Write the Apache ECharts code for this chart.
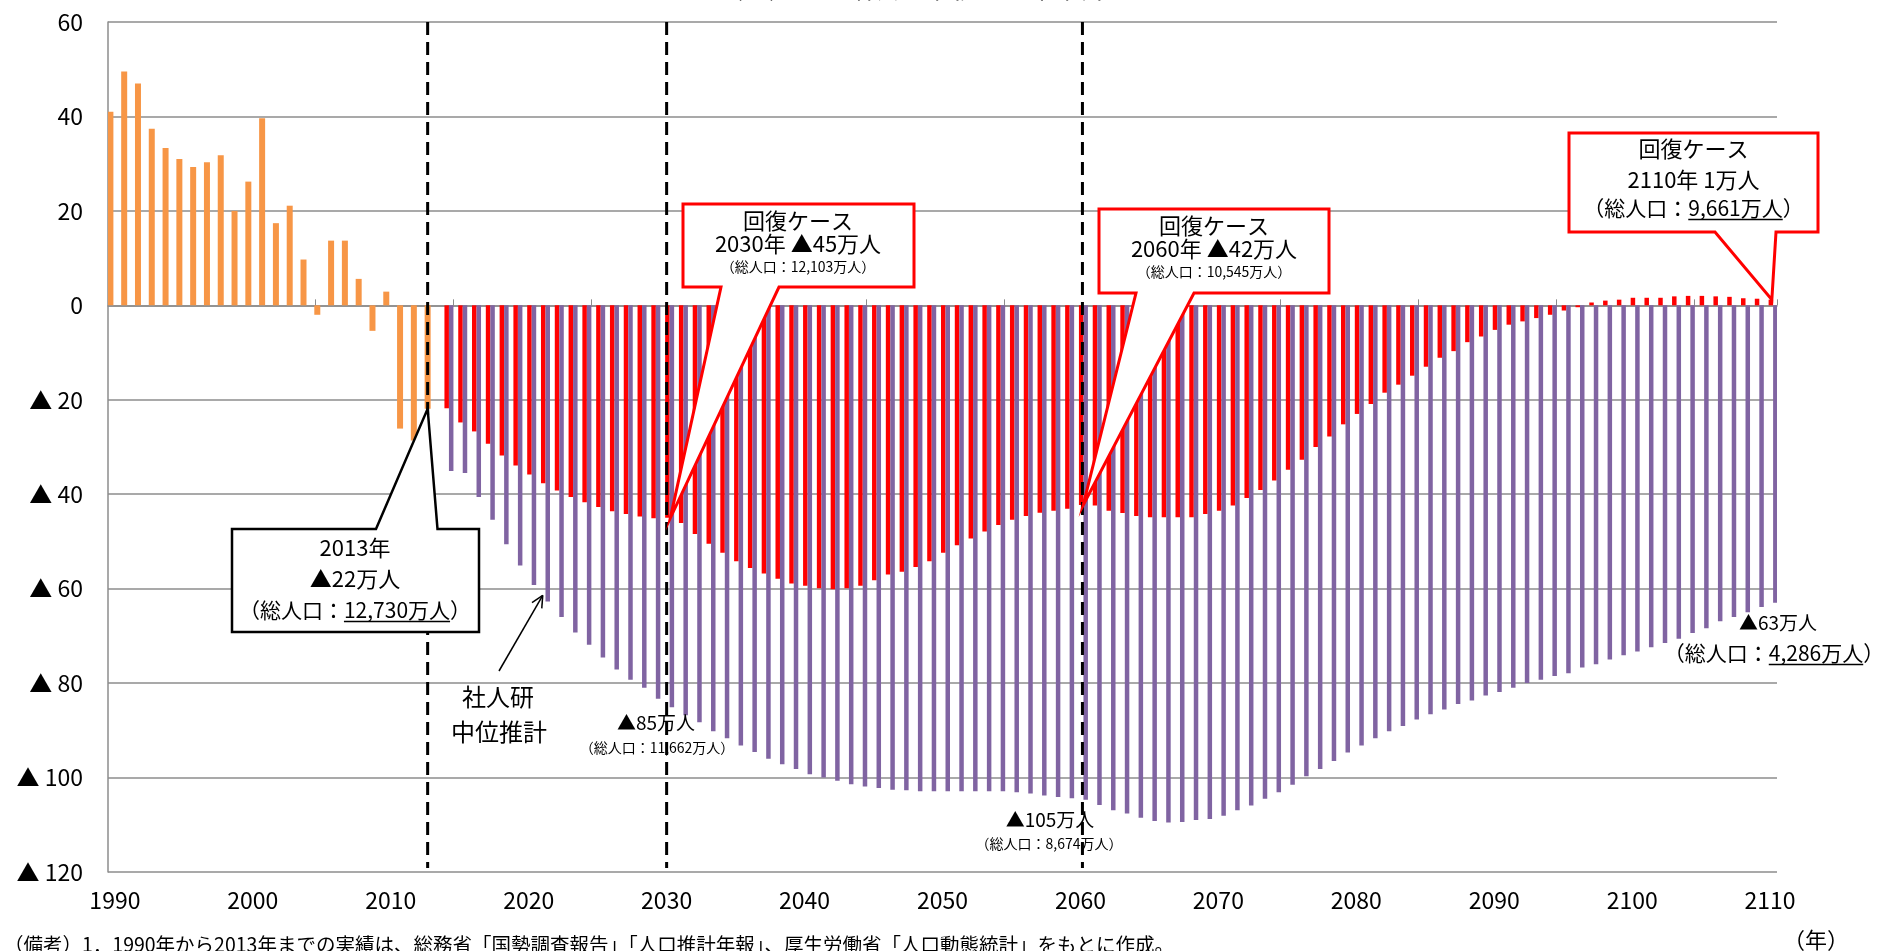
<!DOCTYPE html>
<html>
<head>
<meta charset="utf-8">
<script src="https://cdn.jsdelivr.net/npm/echarts/dist/echarts.min.js"></script>
<style>
  html, body { margin: 0; padding: 0; background: #ffffff; }
  #chart { width: 1881px; height: 951px; }
</style>
</head>
<body>
<div id="chart"></div>
<script>
// ---------------- DATA ----------------
const firstYear = 1990;
const lastYear = 2110;
const labelEvery = 10;

// 実績 1990-2013 (万人)
const actualStart = 1990;
const actual = [41.0, 49.5, 47.0, 37.4, 33.3, 31.0, 29.3, 30.3, 31.8, 20.0,
                26.2, 39.6, 17.4, 21.1, 9.7, -2.0, 13.7, 13.7, 5.6, -5.4,
                2.9, -26.1, -28.6, -21.9];

// 回復ケース 2014-2110
const projStart = 2014;
const recovery = [
  -21.8, -24.8, -26.7, -29.3, -31.8, -33.9, -35.8, -37.7, -39.2, -40.6,
  -41.7, -42.7, -43.6, -44.2, -44.7, -45.1, -45.0,
  -46.1, -48.4, -50.5, -52.4, -54.2, -55.6, -56.8, -57.9, -58.9, -59.4,
  -59.9, -60.1, -59.9, -59.4, -58.2, -57.0, -56.4, -55.4, -54.2, -52.4,
  -50.8, -49.4, -47.9, -46.5, -45.4, -44.6, -43.9, -43.5, -43.1, -42.3,
  -42.4, -43.5, -44.0, -44.6, -44.9, -44.9, -44.9, -44.9, -44.2, -43.5,
  -42.4, -40.8, -39.1, -37.1, -34.8, -32.7, -30.0, -27.8, -25.2, -23.0,
  -20.9, -18.5, -16.8, -14.9, -13.0, -11.1, -9.7, -7.8, -6.6, -5.2,
  -4.1, -3.4, -2.7, -2.0, -1.1, -0.4, 0.6, 1.0, 1.2, 1.6,
  1.6, 1.6, 1.9, 2.0, 2.0, 1.9, 1.8, 1.5, 1.4, 1.2
];

// 社人研中位推計 2014-2110
const ipss = [
  -35.1, -35.5, -40.6, -45.4, -50.6, -55.1, -59.2, -62.7, -66.0, -69.3,
  -71.9, -74.6,
  -77.1, -79.3, -81.0, -83.3, -85.1, -86.8, -88.3, -90.2, -91.7, -93.2,
  -94.6, -96.0, -97.2, -98.2, -99.3, -100.0, -100.7, -101.4, -101.9, -102.2,
  -102.6, -102.7, -102.9, -102.9, -102.9, -102.9, -102.9, -102.9, -102.9, -103.1,
  -103.4, -103.8, -104.1, -104.4, -104.7, -105.8, -106.9, -107.6, -108.5, -109.2,
  -109.5, -109.4, -109.0, -108.8, -108.1, -106.9, -105.9, -104.5, -103.1, -101.5,
  -99.7, -98.2, -96.5, -94.7, -93.2, -91.7, -90.2, -89.1, -87.7, -86.6,
  -85.6, -84.4, -83.7, -82.6, -81.9, -81.0, -80.0, -79.3, -78.5, -77.9,
  -76.7, -76.0, -75.0, -74.1, -73.3, -72.4, -71.5, -70.6, -69.4, -68.4,
  -66.9, -66.0, -65.0, -63.9, -63.0
];

const yMin = -120, yMax = 60, yStep = 20;
const markYears = [2013, 2030, 2060];

// ---------------- BUILD ----------------
const FONT = '"Noto Sans CJK JP", "Noto Sans", sans-serif';
const categories = [];
for (let y = firstYear; y <= lastYear; y++) categories.push(String(y));
const actualData = categories.map(c => { const i = +c - actualStart; return (i >= 0 && i < actual.length) ? actual[i] : '-'; });
const recoveryData = categories.map(c => { const i = +c - projStart; return (i >= 0 && i < recovery.length) ? recovery[i] : '-'; });
const ipssData = categories.map(c => { const i = +c - projStart; return (i >= 0 && i < ipss.length) ? ipss[i] : '-'; });

const GRID = '#8c8c8c';
const chart = echarts.init(document.getElementById('chart'), null, { renderer: 'canvas' });

const W_ACT = 6, W_REC = 4.5, W_IPSS = 4.5;
const option = {
  animation: false,
  backgroundColor: '#ffffff',
  textStyle: { fontFamily: FONT },
  grid: { left: 108, right: 104, top: 22, bottom: 79, containLabel: false },
  xAxis: [
    {
      type: 'category', data: categories, boundaryGap: true,
      axisLine: { show: true, onZero: true, lineStyle: { color: GRID, width: 1.5 } },
      axisTick: { show: true, inside: true, length: 6, lineStyle: { color: GRID, width: 1 },
                  interval: (i) => i % labelEvery === 5 },
      axisLabel: { show: false },
      splitLine: { show: false }
    },
    {
      type: 'category', data: categories, boundaryGap: true, position: 'bottom',
      axisLine: { show: false, onZero: false },
      axisTick: { show: false },
      axisLabel: { show: true, interval: labelEvery - 1, color: '#000', fontSize: 23, fontFamily: FONT, margin: 17 },
      splitLine: { show: false }
    }
  ],
  yAxis: {
    type: 'value', min: yMin, max: yMax, interval: yStep,
    axisLine: { show: true, lineStyle: { color: GRID, width: 1.5 } },
    axisTick: { show: false },
    splitLine: { show: true, lineStyle: { color: GRID, width: 1.5 } },
    axisLabel: {
      color: '#000', fontSize: 23, fontFamily: FONT, margin: 25,
      formatter: v => v < 0 ? '▲ ' + (-v) : String(v)
    }
  },
  series: [
    { name: '実績', type: 'bar', xAxisIndex: 0, data: actualData, barWidth: W_ACT, barGap: '0%',
      itemStyle: { color: '#F79646' } },
    { name: '回復ケース', type: 'bar', xAxisIndex: 0, data: recoveryData, barWidth: W_REC, barGap: '0%',
      itemStyle: { color: '#FF0000' } },
    { name: '社人研中位推計', type: 'bar', xAxisIndex: 0, data: ipssData, barWidth: W_IPSS, barGap: '0%',
      itemStyle: { color: '#8064A2' } }
  ]
};
chart.setOption(option);

// ---------------- ANNOTATIONS ----------------
const totalW = W_ACT + W_REC + W_IPSS;
const OFF_ACTUAL = -totalW / 2 + W_ACT / 2;
const OFF_REC = -totalW / 2 + W_ACT + W_REC / 2;
const OFF_IPSS = totalW / 2 - W_IPSS / 2;
function px(year, value) {
  return chart.convertToPixel({ xAxisIndex: 0, yAxisIndex: 0 }, [year - firstYear, value]);
}
function recVal(y) { return recovery[y - projStart]; }
function ipssVal(y) { return ipss[y - projStart]; }
function actVal(y) { return actual[y - actualStart]; }

const mctx = document.createElement('canvas').getContext('2d');
function measure(str, size) { mctx.font = size + 'px ' + FONT; return mctx.measureText(str).width; }

const G = [];
function text(x, y, str, size, opts) {
  opts = opts || {};
  G.push({ type: 'text', x: x, y: y, z: 120,
    style: { text: str, fill: '#000', fontSize: size, fontFamily: FONT,
             align: opts.align || 'center', verticalAlign: 'middle' } });
  if (opts.underline) {
    const w = measure(str, size);
    let left = (opts.align === 'left') ? x : (opts.align === 'right' ? x - w : x - w / 2);
    const idx = str.indexOf(opts.underline);
    const ux = left + measure(str.slice(0, idx), size);
    const uw = measure(opts.underline, size);
    const uy = y + size * 0.55;
    G.push({ type: 'line', z: 120, shape: { x1: ux, y1: uy, x2: ux + uw, y2: uy },
             style: { stroke: '#000', lineWidth: 1.5 } });
  }
}
function callout(box, base, tip, color, lw, side) {
  const [l, t, r, b] = box;
  let pts;
  if (side === 'top') {
    pts = [[l, t], [base[0], t], tip, [base[1], t], [r, t], [r, b], [l, b]];
  } else {
    pts = [[l, t], [r, t], [r, b], [base[1], b], tip, [base[0], b], [l, b]];
  }
  G.push({ type: 'polygon', z: 110, shape: { points: pts },
           style: { fill: '#ffffff', stroke: color, lineWidth: lw, lineJoin: 'miter' } });
}

// dashed vertical lines
const dashOff = { 2013: OFF_ACTUAL, 2030: 0, 2060: 2 };
const topY = px(firstYear, yMax)[1], botY = px(firstYear, yMin)[1];
markYears.forEach(y => {
  const x = px(y, 0)[0] + dashOff[y];
  G.push({ type: 'line', z: 100, shape: { x1: x, y1: topY, x2: x, y2: botY - 4 },
           style: { stroke: '#000', lineWidth: 3, lineDash: [13, 7] } });
});

// callout 2013 (black)
{
  const p = px(2013, actVal(2013)); const tip = [p[0] + OFF_ACTUAL, p[1]];
  callout([232, 529, 479, 632], [376, 437.5], tip, '#000', 2.5, 'top');
  text(355, 548, '2013年', 22);
  text(355, 579, '▲22万人', 22);
  text(355, 610, '（総人口：12,730万人）', 21, { underline: '12,730万人' });
}
// callout 2030 (red)
{
  const p = px(2030, recVal(2030)); const tip = [p[0] + OFF_REC + 3, p[1]];
  callout([683, 204, 914, 287], [721, 779], tip, '#FF0000', 3, 'bottom');
  text(798, 221, '回復ケース', 22);
  text(798, 244, '2030年 ▲45万人', 22);
  text(798, 267, '（総人口：12,103万人）', 14);
}
// callout 2060 (red)
{
  const p = px(2060, recVal(2060)); const tip = [p[0] + OFF_REC + 2, p[1]];
  callout([1099, 209, 1329, 293], [1136, 1194], tip, '#FF0000', 3, 'bottom');
  text(1214, 226, '回復ケース', 22);
  text(1214, 249, '2060年 ▲42万人', 22);
  text(1214, 272, '（総人口：10,545万人）', 14);
}
// callout 2110 (red)
{
  const p = px(2110, recVal(2110)); const tip = [p[0] + OFF_REC + 1, p[1]];
  callout([1569, 133, 1818, 232], [1715, 1776], tip, '#FF0000', 3, 'bottom');
  text(1693.5, 149, '回復ケース', 22);
  text(1693.5, 180, '2110年 1万人', 22);
  text(1693.5, 208, '（総人口：9,661万人）', 21, { underline: '9,661万人' });
}

// labels under IPSS bars
text(656, 723, '▲85万人', 19);
text(657, 748, '（総人口：11,662万人）', 14);
text(1050, 820, '▲105万人', 19);
text(1049, 844, '（総人口：8,674万人）', 14);
text(1778, 623, '▲63万人', 19);
text(1774, 653, '（総人口：4,286万人）', 21, { underline: '4,286万人' });

// 社人研 中位推計 with arrow
text(498, 697, '社人研', 24);
text(499, 732, '中位推計', 24);
{
  const p = px(2021, ipssVal(2021));
  const tip = [p[0] + OFF_IPSS - 5, p[1] - 6];
  const start = [499, 671];
  G.push({ type: 'line', z: 120, shape: { x1: start[0], y1: start[1], x2: tip[0], y2: tip[1] },
           style: { stroke: '#000', lineWidth: 1.5 } });
  const ang = Math.atan2(start[1] - tip[1], start[0] - tip[0]);
  [0.45, -0.45].forEach(d => {
    G.push({ type: 'line', z: 120, shape: { x1: tip[0], y1: tip[1],
             x2: tip[0] + 13 * Math.cos(ang + d), y2: tip[1] + 13 * Math.sin(ang + d) },
             style: { stroke: '#000', lineWidth: 1.5 } });
  });
}

// title (cut off at the top of the image), unit, footnote
G.push({ type: 'text', x: 912, y: -12, z: 120,
  style: { text: '（２）人口増減の推移と将来推計', fill: '#000', fontSize: 26, fontFamily: FONT,
           align: 'center', verticalAlign: 'middle' } });
text(1816, 940, '（年）', 22);
text(4, 945, '（備考）1．1990年から2013年までの実績は、総務省「国勢調査報告」「人口推計年報」、厚生労働省「人口動態統計」をもとに作成。', 19.5, { align: 'left' });

chart.setOption({ graphic: G });
</script>
</body>
</html>
